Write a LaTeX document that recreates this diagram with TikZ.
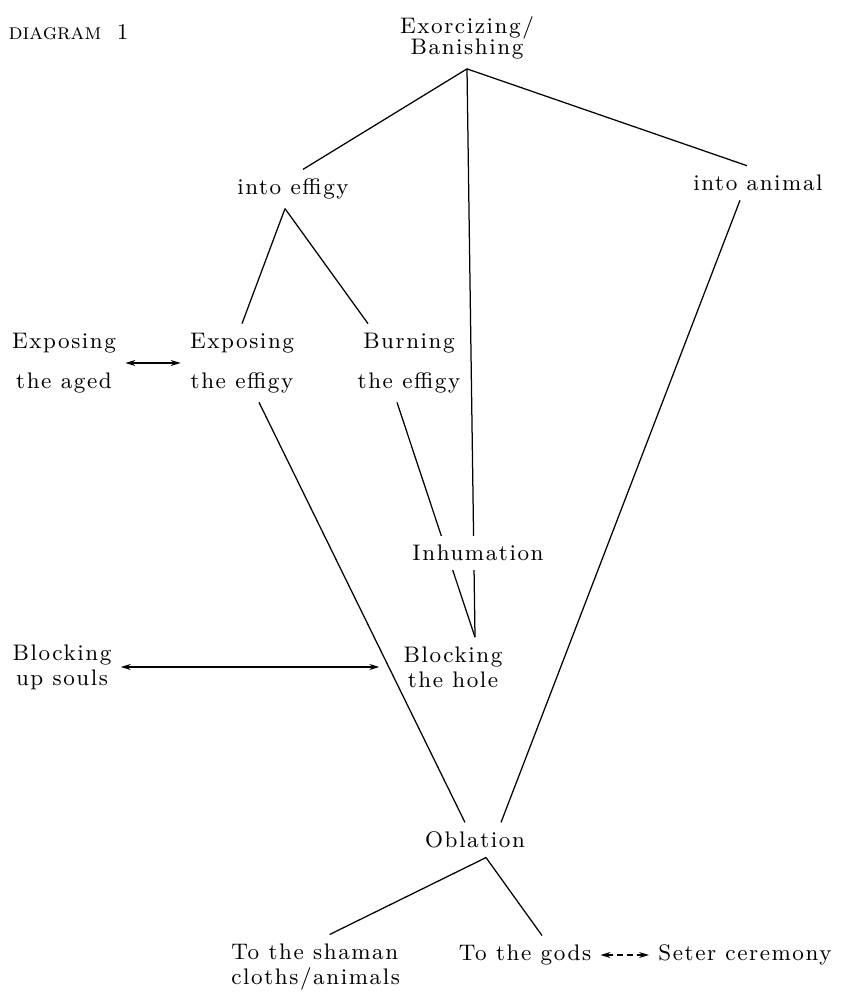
\documentclass[tikz,border=0pt]{standalone}
\usepackage{fontspec}
\usepackage{tikz}
\usetikzlibrary{arrows.meta}
\newfontfamily\diagfont{Latin Modern Roman}[LetterSpace=7]

\begin{document}
\begin{tikzpicture}
            [x=0.4pt, y=-0.4pt,
            line width=0.5pt,
            txt/.style = {inner sep=3.5pt,
                        font={\diagfont\fontsize{9}{10}\selectfont}},
            twoline/.style = {txt, align=center,
                        font={\diagfont\fontsize{9}{#1}\selectfont}},
            dblarrow/.style = {{Stealth[length=4pt,width=2.4pt]}-{Stealth[length=4pt,width=2.4pt]}}]
            \useasboundingbox (0,0) rectangle (847,994);
            \node[anchor=west, inner sep=0pt,
                font={\fontsize{9}{10}\selectfont}] (title) at (8,32) {\textsc{diagram}\ \ 1};
            % Nodos
            \node[twoline=8.6pt] (exorc) at (467,38) {Exorcizing/\\Banishing};
            \node[txt] (intoeff) at (293,189) {into effigy};
            \node[txt] (intoani) at (758,183) {into animal};
            \node[twoline=16pt] (expaged) at (64,363) {Exposing\\the aged};
            \node[twoline=16pt] (expeff) at (242,363) {Exposing\\the effigy};
            \node[twoline=16pt] (burn) at (409,363) {Burning\\the effigy};
            \node[twoline=10pt] (souls) at (62,667) {Blocking\\up souls};
            \node[twoline=10pt] (hole) at (453,667) {Blocking\\the hole};
            \node[txt] (obl) at (475,840) {Oblation};
            \node[twoline=10pt, align=left, anchor=west] (shaman) at (222,967) {To the shaman\\cloths/animals};
            \node[txt] (gods) at (525,955) {To the gods};
            \node[txt] (seter) at (745,955) {Seter ceremony};
            % Lineas
            \draw (exorc.south) -- ([xshift=4pt]intoeff.north);
            \draw (exorc.south) -- ([xshift=8.8pt]hole.north);
            \draw (exorc.south) -- ([xshift=-4.4pt]intoani.north);
            \draw ([xshift=-3.2pt]intoeff.south) -- (expeff.north);
            \draw ([xshift=-3.2pt]intoeff.south) -- ([xshift=-16.4pt]burn.north);
            \draw ([xshift=6.8pt]expeff.south) -- ([xshift=-4pt]obl.north);
            \draw ([xshift=-4.8pt]burn.south) -- ([xshift=8.8pt]hole.north);
            \draw ([xshift=-7.2pt]intoani.south) -- ([xshift=10.4pt]obl.north);
            \draw ([xshift=4.4pt]obl.south) -- ([xshift=5.6pt]shaman.north);
            \draw ([xshift=4.4pt]obl.south) -- ([xshift=6.8pt]gods.north);
            \draw[dblarrow] (expaged.east) -- (expeff.west);
            \draw[dblarrow] (souls.east) -- ([xshift=-6pt]hole.west);
            \draw[dblarrow, dash pattern=on 2.5pt off 1.5pt] (gods.east) -- (seter.west);
            \node[txt, fill=white] (inhum) at (478,553) {Inhumation};
        \end{tikzpicture}
\end{document}
